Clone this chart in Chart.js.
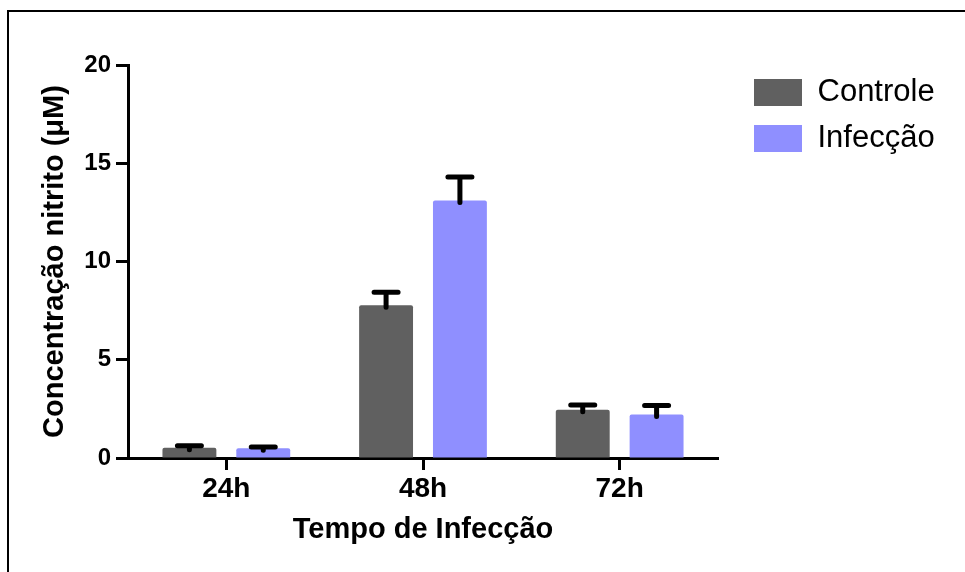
<!DOCTYPE html>
<html>
<head>
<meta charset="utf-8">
<script src="https://cdn.jsdelivr.net/npm/chart.js@4.4.1/dist/chart.umd.min.js"></script>
<style>
  body { margin: 0; background: #fff; }
  canvas { display: block; }
</style>
</head>
<body>
<canvas id="graph" width="965" height="572"></canvas>
<script>
// values (mean + upper error)
var tempos = ["24h", "48h", "72h"];
var controle = [0.52, 7.77, 2.45];
var controleErr = [0.1, 0.66, 0.25];
var infeccao = [0.5, 13.11, 2.21];
var infeccaoErr = [0.06, 1.19, 0.46];
var yTicks = [0, 5, 10, 15, 20];

var FONT = '"Liberation Sans", Arial, sans-serif';
Chart.defaults.font.family = FONT;
Chart.defaults.color = '#000';

// black frame on top and left like the exported picture
const frame = {
    id: 'frame',
    beforeDraw(chart) {
        const ctx = chart.ctx;
        ctx.save();
        ctx.fillStyle = '#fff';
        ctx.fillRect(0, 0, chart.width, chart.height);
        ctx.fillStyle = '#000';
        ctx.fillRect(7, 10, chart.width - 7, 2);
        ctx.fillRect(7, 10, 2, chart.height - 10);
        ctx.restore();
    }
};

// upper error bars only, Prism style
const errorBars = {
    id: 'errorBars',
    afterDatasetsDraw(chart) {
        const ctx = chart.ctx;
        const y = chart.scales.y;
        ctx.save();
        ctx.strokeStyle = '#000';
        ctx.lineWidth = 5;
        ctx.lineCap = 'round';
        chart.data.datasets.forEach((ds, i) => {
            chart.getDatasetMeta(i).data.forEach((bar, j) => {
                const top = y.getPixelForValue(ds.data[j] + ds.errors[j]);
                ctx.beginPath();
                ctx.moveTo(bar.x, bar.y + 2);
                ctx.lineTo(bar.x, top);
                ctx.moveTo(bar.x - 12, top);
                ctx.lineTo(bar.x + 12, top);
                ctx.stroke();
            });
        });
        ctx.restore();
    }
};

// fixed legend width so the plot area ends where the x axis ends, then nudge it
const legendPlace = {
    id: 'legendPlace',
    beforeLayout(chart) {
        const lg = chart.legend;
        if (lg && !lg.fixedFit) {
            const fit = lg.fit;
            lg.fit = function () { fit.call(this); this.width = 247; };
            lg.fixedFit = true;
        }
    },
    afterLayout(chart) {
        chart.legend.left += 21;
        chart.legend.top -= 3;
    }
};

new Chart(document.getElementById('graph'), {
    type: 'bar',
    data: {
        labels: tempos,
        datasets: [
            { label: 'Controle', data: controle, errors: controleErr, backgroundColor: '#606060' },
            { label: 'Infecção', data: infeccao, errors: infeccaoErr, backgroundColor: '#8f8fff' }
        ]
    },
    options: {
        responsive: false,
        animation: false,
        layout: { padding: { top: 65, left: 0, right: 0, bottom: 0 } },
        datasets: {
            bar: { categoryPercentage: 0.751, barPercentage: 0.73, borderRadius: 2 }
        },
        plugins: {
            tooltip: { enabled: false },
            legend: {
                position: 'right',
                align: 'start',
                fullSize: false,
                labels: {
                    boxWidth: 48,
                    boxHeight: 27,
                    padding: 15,
                    color: '#000',
                    font: { size: 31 }
                }
            }
        },
        scales: {
            x: {
                grid: { display: true, offset: false, drawOnChartArea: false, drawTicks: true, tickLength: 12, tickWidth: 3, tickColor: '#000' },
                border: { display: true, color: '#000', width: 3 },
                ticks: { color: '#000', padding: 2, font: { size: 28, weight: 'bold' } },
                title: {
                    display: true,
                    text: 'Tempo de Infecção',
                    color: '#000',
                    font: { size: 29, weight: 'bold' },
                    padding: { top: 0, bottom: 25 }
                },
                afterFit(scale) { scale.height = 114; }
            },
            y: {
                min: 0,
                max: 20,
                afterBuildTicks(scale) { scale.ticks = yTicks.map(v => ({ value: v })); },
                grid: { display: true, drawOnChartArea: false, drawTicks: true, tickLength: 12, tickWidth: 3, tickColor: '#000' },
                border: { display: true, color: '#000', width: 3 },
                ticks: { color: '#000', padding: 5, font: { size: 24, weight: 'bold' } },
                title: {
                    display: true,
                    text: 'Concentração nitrito (μM)',
                    color: '#000',
                    font: { size: 29, weight: 'bold' },
                    padding: { top: 38, bottom: 0 }
                },
                afterFit(scale) { scale.width = 128; }
            }
        }
    },
    plugins: [frame, errorBars, legendPlace]
});
</script>
</body>
</html>
